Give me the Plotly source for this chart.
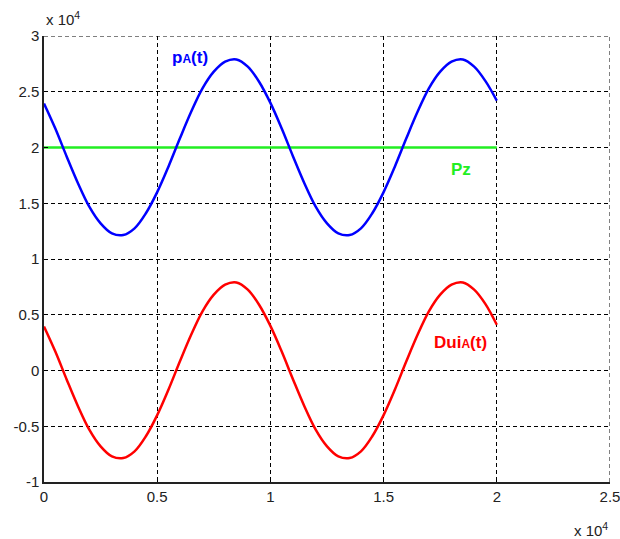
import plotly.graph_objects as go

# time samples (x axis)
t = [0, 500, 1000, 1500, 2000, 2500, 3000, 3500, 4000, 4500, 5000,
     5500, 6000, 6500, 7000, 7500, 8000, 8500, 9000, 9500, 10000,
     10500, 11000, 11500, 12000, 12500, 13000, 13500, 14000, 14500, 15000,
     15500, 16000, 16500, 17000, 17500, 18000, 18500, 19000, 19500, 20000]

# pA(t)
pA = [23950, 21700, 19200, 16800, 14700, 13200, 12300, 12150, 12750, 14100, 16000,
      18300, 20800, 23200, 25300, 26800, 27700, 27900, 27250, 25900, 24000,
      21700, 19200, 16800, 14700, 13200, 12300, 12150, 12750, 14100, 16000,
      18300, 20800, 23200, 25300, 26800, 27700, 27900, 27250, 25950, 24200]

# DuiA(t)
DuiA = [3950, 1700, -800, -3200, -5300, -6800, -7700, -7850, -7250, -5900, -4000,
        -1700, 800, 3200, 5300, 6800, 7700, 7900, 7250, 5900, 4000,
        1700, -800, -3200, -5300, -6800, -7700, -7850, -7250, -5900, -4000,
        -1700, 800, 3200, 5300, 6800, 7700, 7900, 7250, 5950, 4100]

# Pz constant level
pz_x = [0, 20000]
pz_y = [20000, 20000]

xtick_vals = [0, 5000, 10000, 15000, 20000, 25000]
xtick_text = ["0", "0.5", "1", "1.5", "2", "2.5"]
ytick_vals = [-10000, -5000, 0, 5000, 10000, 15000, 20000, 25000, 30000]
ytick_text = ["-1", "-0.5", "0", "0.5", "1", "1.5", "2", "2.5", "3"]

FONT = "Liberation Sans, Arial"

fig = go.Figure()
fig.add_trace(go.Scatter(x=pz_x, y=pz_y, mode="lines",
                         line=dict(color="#22ee22", width=2.5), showlegend=False))
fig.add_trace(go.Scatter(x=t, y=pA, mode="lines", line_shape="spline",
                         line=dict(color="#0000ff", width=2.5), showlegend=False))
fig.add_trace(go.Scatter(x=t, y=DuiA, mode="lines", line_shape="spline",
                         line=dict(color="#ff0000", width=2.5), showlegend=False))

grid = dict(showgrid=True, gridcolor="#000000", gridwidth=1, griddash="4px,3px",
            zeroline=False, ticks="inside", ticklen=4, tickcolor="#000000",
            tickfont=dict(family=FONT, size=15, color="#222222"),
            showline=True, linecolor="#222222", linewidth=1.5,
            ticklabeloverflow="allow", automargin=False)

fig.update_layout(
    width=620, height=539,
    margin=dict(l=44, r=10, t=36, b=57, autoexpand=False),
    paper_bgcolor="white", plot_bgcolor="white",
    xaxis=dict(range=[0, 25000], tickvals=xtick_vals, ticktext=xtick_text, **grid),
    yaxis=dict(range=[-10000, 30000], tickvals=ytick_vals, ticktext=ytick_text, **grid),
    font=dict(family=FONT),
)

# dashed grid lines on the right and top edges of the box
fig.add_shape(type="line", xref="x", yref="y", x0=25000, x1=25000, y0=-10000, y1=30000,
              line=dict(color="#000000", width=1, dash="4px,3px"), layer="below")
fig.add_shape(type="line", xref="x", yref="y", x0=0, x1=25000, y0=30000, y1=30000,
              line=dict(color="#000000", width=1, dash="4px,3px"), layer="below")

fig.add_annotation(x=6450, y=28100, text="<b>p<span style='font-size:12px'>A</span>(t)</b>",
                   showarrow=False, font=dict(size=17, color="#0000ff", family=FONT),
                   xanchor="center", yanchor="middle")
fig.add_annotation(x=18400, y=18000, text="<b>Pz</b>",
                   showarrow=False, font=dict(size=17, color="#22ee22", family=FONT),
                   xanchor="center", yanchor="middle")
fig.add_annotation(x=18400, y=2500, text="<b>Dui<span style='font-size:12px'>A</span>(t)</b>",
                   showarrow=False, font=dict(size=17, color="#ff0000", family=FONT),
                   xanchor="center", yanchor="middle")
fig.add_annotation(xref="paper", yref="paper", x=0.0, y=1.0, yshift=6,
                   text="x 10<sup>4</sup>", showarrow=False, xanchor="left", yanchor="bottom",
                   font=dict(size=15, color="#222222", family=FONT))
fig.add_annotation(xref="paper", yref="paper", x=1.0, y=0.0, yshift=-36,
                   text="x 10<sup>4</sup>", showarrow=False, xanchor="right", yanchor="top",
                   font=dict(size=15, color="#222222", family=FONT))

fig.write_html("out.html")
